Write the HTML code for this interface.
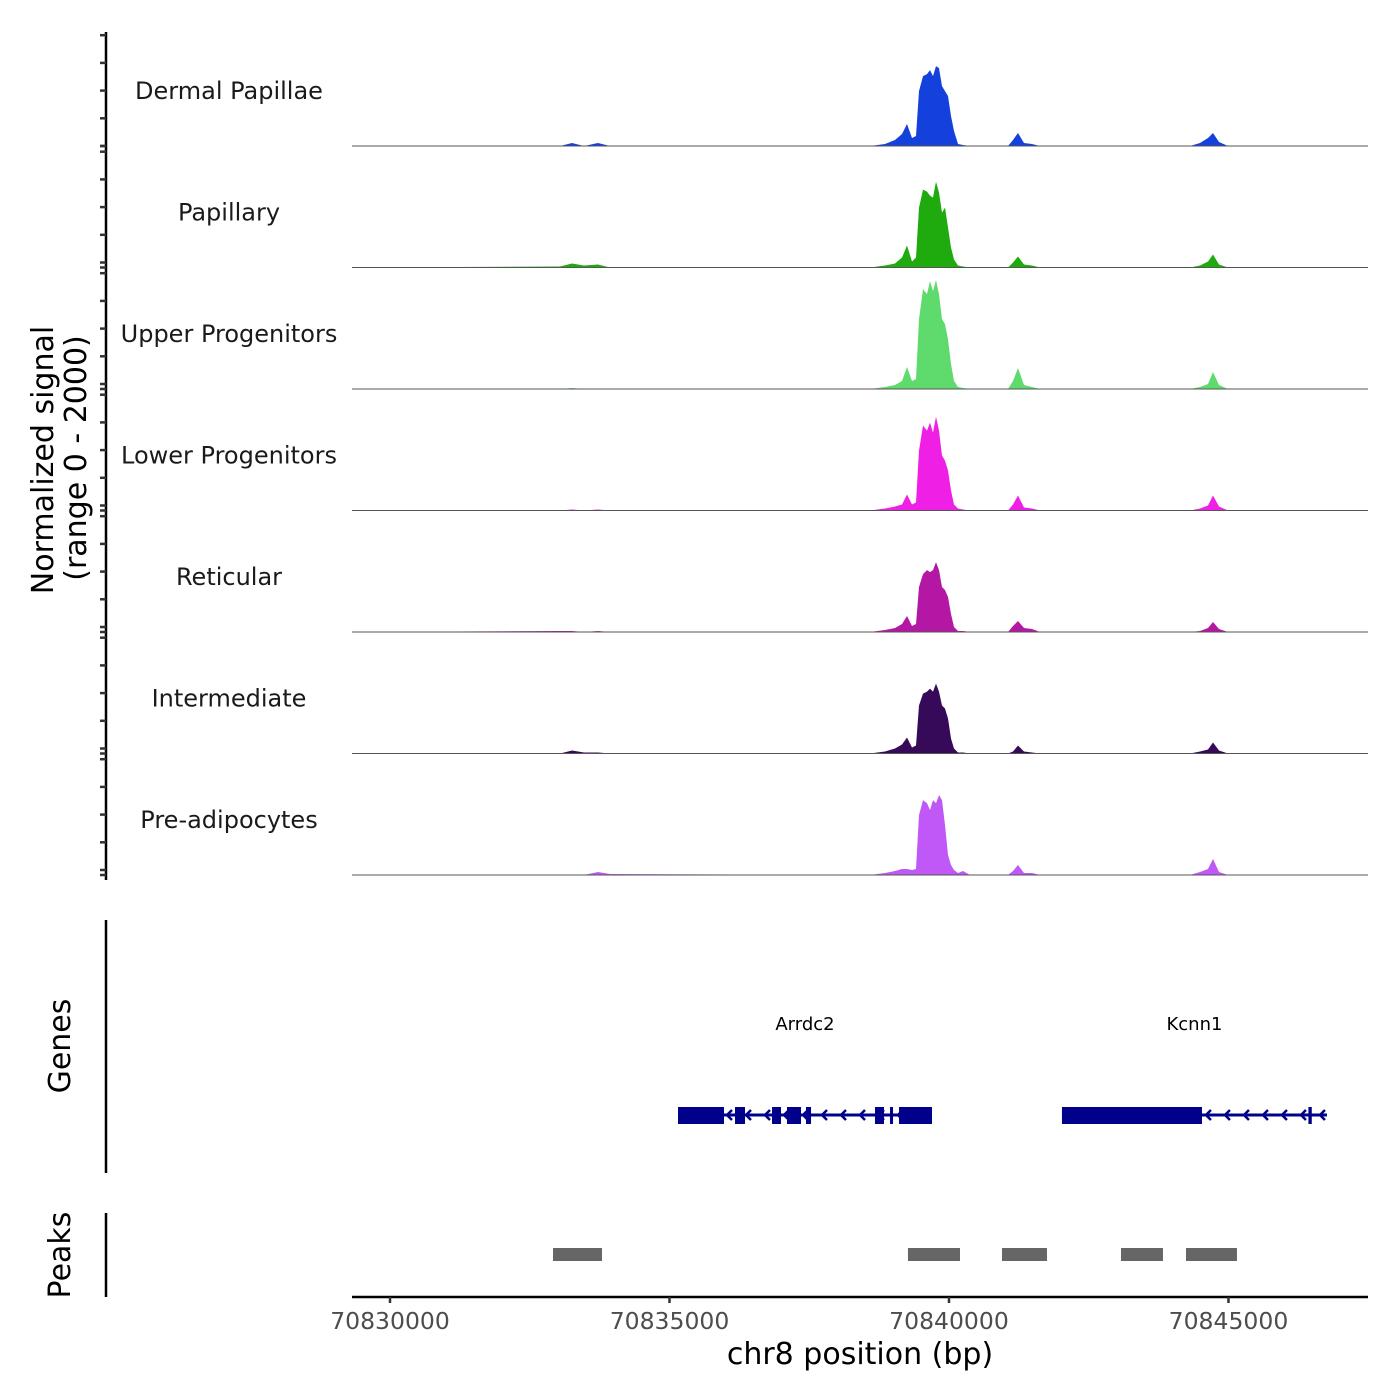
<!DOCTYPE html>
<html><head><meta charset="utf-8"><style>
body{margin:0;background:#fff}
svg{display:block;font-family:"DejaVu Sans","Liberation Sans",sans-serif}
</style></head><body>
<svg id="chart" width="1400" height="1400" viewBox="0 0 1400 1400" xmlns="http://www.w3.org/2000/svg">
<g id="tracks"></g>
<g id="genes"></g>
<g id="peaks"></g>
<g id="axes"></g>
<text x="0" y="0" transform="translate(53,460) rotate(-90)" text-anchor="middle" font-size="30" fill="#000">Normalized signal</text>
<text x="0" y="0" transform="translate(86,458) rotate(-90)" text-anchor="middle" font-size="30" fill="#000">(range 0 - 2000)</text>
<text x="0" y="0" transform="translate(70,1046) rotate(-90)" text-anchor="middle" font-size="30" fill="#000">Genes</text>
<text x="0" y="0" transform="translate(70,1255) rotate(-90)" text-anchor="middle" font-size="30" fill="#000">Peaks</text>
<text x="860" y="1364" text-anchor="middle" font-size="30" fill="#000">chr8 position (bp)</text>
</svg>
<script>
const trackNames = ["Dermal Papillae","Papillary","Upper Progenitors","Lower Progenitors","Reticular","Intermediate","Pre-adipocytes"];
const trackColors = ["#1440DC","#1FAA0E","#5EDB6C","#F01FE6","#B517A5","#360A58","#C057F7"];
const positions = [70829320,70833041,70833256,70833470,70833721,70833936,70838587,70838855,70839034,70839159,70839249,70839338,70839410,70839463,70839535,70839606,70839660,70839714,70839767,70839821,70839875,70839928,70839982,70840036,70840089,70840161,70840250,70840375,70841056,70841145,70841234,70841342,70841485,70841628,70844311,70844490,70844633,70844723,70844830,70844991,70847496];
const sigDermalPapillae = [0,0,54,0,54,0,0,36,108,216,396,144,180,990,1260,1296,1368,1260,1440,1404,1080,990,900,540,270,36,18,0,0,108,234,54,36,0,0,54,144,234,72,0,0];
const sigPapillary = [0,18,72,36,54,0,0,36,72,180,396,108,180,1080,1404,1368,1296,1260,1548,1350,990,1080,720,360,144,36,18,0,0,90,198,54,36,0,0,36,108,234,54,0,0];
const sigUpperProgenitors = [0,0,18,0,0,0,0,36,72,144,396,144,180,1260,1800,1710,1944,1764,1962,1710,1260,1170,900,450,144,36,18,0,0,144,378,72,36,0,0,36,90,306,72,0,0];
const sigLowerProgenitors = [0,0,18,0,18,0,0,36,72,108,288,108,144,1080,1530,1440,1584,1404,1692,1440,990,900,720,360,108,36,18,0,0,108,270,54,36,0,0,36,90,270,72,0,0];
const sigReticular = [0,18,18,0,18,0,0,36,72,144,288,108,144,810,1044,1116,1080,1116,1260,1116,810,756,630,324,90,18,18,0,0,108,198,72,54,0,0,18,72,180,54,0,0];
const sigIntermediate = [0,0,54,18,18,0,0,36,90,162,288,108,144,864,1080,1116,1170,1116,1260,1116,864,810,630,270,90,18,18,0,0,36,144,36,18,0,0,36,72,198,54,0,0];
const sigPreadipocytes = [0,0,0,0,54,18,0,36,72,108,108,90,108,1080,1350,1296,1170,1350,1296,1440,1350,900,360,180,90,36,72,0,0,72,180,36,36,0,0,54,108,288,54,0,0];
const xTicks = [70830000,70835000,70840000,70845000];
const peakStarts = [70832916,70839266,70840948,70843077,70844240];
const peakEnds = [70833792,70840197,70841753,70843828,70845152];
const geneNames = ["Arrdc2","Kcnn1"];
const geneStarts = [70835152,70842021];
const geneEnds = [70839696,70846762];
const exonGene = [0,0,0,0,0,0,0,0,1,1];
const exonStarts = [70835152,70836172,70836834,70837102,70837442,70838676,70838945,70839106,70842021,70846430];
const exonEnds = [70835975,70836351,70836995,70837353,70837532,70838837,70838998,70839696,70844526,70846490];

const NS="http://www.w3.org/2000/svg";
const X0=70829320, X1=70847496, PX0=352, PX1=1368;
function xs(bp){return PX0+(bp-X0)/(X1-X0)*(PX1-PX0);}
function ys(v,i){return (146+121.5*i) - v/2000*111;}
function mk(tag,attrs,parent){const e=document.createElementNS(NS,tag);for(const k in attrs)e.setAttribute(k,attrs[k]);parent.appendChild(e);return e;}
const sigs=[sigDermalPapillae,sigPapillary,sigUpperProgenitors,sigLowerProgenitors,sigReticular,sigIntermediate,sigPreadipocytes];
const tg=document.getElementById('tracks');
sigs.forEach((s,i)=>{
  const base=146+121.5*i;
  let d="M"+xs(positions[0])+","+base;
  s.forEach((v,j)=>{d+=" L"+xs(positions[j]).toFixed(1)+","+ys(v,i).toFixed(1);});
  d+=" L"+xs(positions[positions.length-1])+","+base+" Z";
  const p=mk('path',{d:d,fill:trackColors[i]},tg);
  
  
  const l=mk('line',{x1:PX0,x2:PX1,y1:base,y2:base,stroke:'#555',"stroke-width":1},tg);
  
  
  const t=mk('text',{x:229,y:base-47,"text-anchor":"middle","font-size":24,fill:"#1a1a1a"},tg);
  t.textContent=trackNames[i];
  
  
});
const ax=document.getElementById('axes');
const a1=mk('line',{x1:106,x2:106,y1:32,y2:880,stroke:'#000',"stroke-width":2.5},ax);


for(let i=0;i<7;i++){
  const base=146+121.5*i;
  const off=i===0?0:5;
  const ys2=[base];
  for(let k=0;k<5;k++)ys2.push(base-off-k*27.7);
  ys2.forEach(y=>{const t=mk('line',{x1:100,x2:106,y1:y,y2:y,stroke:'#333',"stroke-width":2.5},ax);
    
    });
}
const a2=mk('line',{x1:106,x2:106,y1:920,y2:1173,stroke:'#000',"stroke-width":2.5},ax);


const a3=mk('line',{x1:106,x2:106,y1:1213,y2:1297,stroke:'#000',"stroke-width":2.5},ax);


const a4=mk('line',{x1:352,x2:1368,y1:1297,y2:1297,stroke:'#000',"stroke-width":2.5},ax);


xTicks.forEach(v=>{
  const t=mk('line',{x1:xs(v),x2:xs(v),y1:1297,y2:1303,stroke:'#333',"stroke-width":2.5},ax);
  
  
  const l=mk('text',{x:xs(v),y:1329,"text-anchor":"middle","font-size":23.5,fill:"#4d4d4d"},ax);
  l.textContent=v;
  
  
});
const pg=document.getElementById('peaks');
peakStarts.forEach((s,i)=>{
  const r=mk('rect',{x:xs(s),y:1248,width:xs(peakEnds[i])-xs(s),height:13,fill:'#666'},pg);
  
  
});
const gg=document.getElementById('genes');
const GY=1115;
geneNames.forEach((n,i)=>{
  const x1=xs(geneStarts[i]),x2=xs(geneEnds[i]);
  const l=mk('line',{x1:x1,x2:x2,y1:GY,y2:GY,stroke:'#00008B',"stroke-width":3},gg);
  
  
  for(let x=x1+12;x<x2-4;x+=19){
    const c=mk('path',{d:`M${x+4},${GY-5} L${x-1},${GY} L${x+4},${GY+5}`,fill:'none',stroke:'#00008B',"stroke-width":2.5},gg);
    
    
  }
  const t=mk('text',{x:(x1+x2)/2,y:1030,"text-anchor":"middle","font-size":18,fill:"#000"},gg);
  t.textContent=n;
  
  
});
exonStarts.forEach((s,i)=>{
  const r=mk('rect',{x:xs(s),y:GY-8,width:Math.max(3,xs(exonEnds[i])-xs(s)),height:17,fill:'#00008B'},gg);
  
  
});
</script>
</body></html>
